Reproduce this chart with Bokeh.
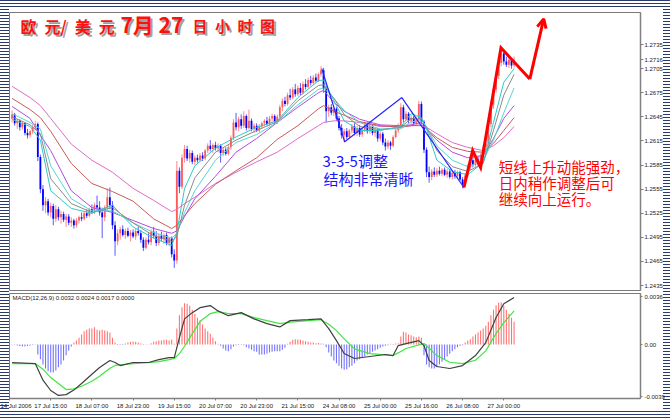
from bokeh.plotting import figure
from bokeh.models import Range1d, FixedTicker, NumeralTickFormatter, Label, Arrow, OpenHead, ColumnDataSource
from bokeh.layouts import column
from bokeh.embed import file_html
from bokeh.resources import INLINE

# ---------------- data (EUR/USD hourly) ----------------
opens = [1.2643, 1.2648, 1.2637, 1.2640, 1.2632, 1.2637, 1.2625, 1.2622, 1.2627, 1.2632,
         1.2636, 1.2595, 1.2555, 1.2535, 1.2540, 1.2526, 1.2534, 1.2518, 1.2530, 1.2520,
         1.2524, 1.2517, 1.2521, 1.2513, 1.2516, 1.2510, 1.2516, 1.2520, 1.2518, 1.2525,
         1.2522, 1.2530, 1.2527, 1.2535, 1.2532, 1.2526, 1.2520, 1.2532, 1.2545, 1.2535,
         1.2510, 1.2490, 1.2500, 1.2505, 1.2498, 1.2503, 1.2497, 1.2501, 1.2496, 1.2503,
         1.2500, 1.2492, 1.2482, 1.2492, 1.2489, 1.2502, 1.2497, 1.2488, 1.2497, 1.2493,
         1.2498, 1.2488, 1.2494, 1.2474, 1.2466, 1.2578, 1.2558, 1.2594, 1.2605, 1.2593,
         1.2600, 1.2589, 1.2594, 1.2591, 1.2597, 1.2593, 1.2603, 1.2609, 1.2605, 1.2610,
         1.2606, 1.2609, 1.2600, 1.2604, 1.2599, 1.2607, 1.2619, 1.2638, 1.2632, 1.2642,
         1.2634, 1.2646, 1.2631, 1.2640, 1.2630, 1.2634, 1.2628, 1.2633, 1.2637, 1.2640,
         1.2636, 1.2643, 1.2646, 1.2639, 1.2645, 1.2657, 1.2665, 1.2661, 1.2672, 1.2669,
         1.2679, 1.2673, 1.2681, 1.2675, 1.2686, 1.2682, 1.2691, 1.2687, 1.2694, 1.2690,
         1.2698, 1.2703, 1.2680, 1.2652, 1.2657, 1.2650, 1.2655, 1.2643, 1.2631, 1.2622,
         1.2627, 1.2620, 1.2628, 1.2633, 1.2625, 1.2631, 1.2623, 1.2629, 1.2635, 1.2627,
         1.2633, 1.2625, 1.2629, 1.2618, 1.2624, 1.2613, 1.2608, 1.2613, 1.2609, 1.2620,
         1.2628, 1.2634, 1.2657, 1.2642, 1.2649, 1.2640, 1.2644, 1.2637, 1.2642, 1.2661,
         1.2639, 1.2604, 1.2576, 1.2570, 1.2577, 1.2573, 1.2578, 1.2574, 1.2579, 1.2573,
         1.2577, 1.2570, 1.2575, 1.2571, 1.2576, 1.2567, 1.2561, 1.2572, 1.2583, 1.2591,
         1.2585, 1.2592, 1.2587, 1.2597, 1.2607, 1.2612, 1.2636, 1.2660, 1.2679, 1.2696,
         1.2712, 1.2724, 1.2714, 1.2710, 1.2716, 1.2709]
highs = [1.2653, 1.2650, 1.2643, 1.2642, 1.2640, 1.2638, 1.2630, 1.2629, 1.2635, 1.2640,
         1.2638, 1.2598, 1.2560, 1.2545, 1.2543, 1.2538, 1.2537, 1.2535, 1.2533, 1.2528,
         1.2527, 1.2524, 1.2524, 1.2520, 1.2518, 1.2519, 1.2522, 1.2526, 1.2528, 1.2530,
         1.2532, 1.2536, 1.2538, 1.2547, 1.2540, 1.2532, 1.2535, 1.2556, 1.2557, 1.2540,
         1.2515, 1.2505, 1.2508, 1.2510, 1.2506, 1.2507, 1.2504, 1.2505, 1.2506, 1.2508,
         1.2504, 1.2495, 1.2495, 1.2500, 1.2505, 1.2508, 1.2503, 1.2500, 1.2502, 1.2500,
         1.2501, 1.2496, 1.2496, 1.2480, 1.2590, 1.2582, 1.2598, 1.2610, 1.2609, 1.2604,
         1.2603, 1.2597, 1.2598, 1.2600, 1.2601, 1.2605, 1.2612, 1.2616, 1.2612, 1.2614,
         1.2612, 1.2611, 1.2607, 1.2607, 1.2610, 1.2622, 1.2642, 1.2650, 1.2645, 1.2648,
         1.2652, 1.2648, 1.2654, 1.2643, 1.2637, 1.2637, 1.2636, 1.2639, 1.2642, 1.2645,
         1.2646, 1.2649, 1.2648, 1.2648, 1.2660, 1.2668, 1.2670, 1.2675, 1.2680, 1.2682,
         1.2686, 1.2684, 1.2687, 1.2689, 1.2692, 1.2694, 1.2696, 1.2697, 1.2699, 1.2700,
         1.2708, 1.2706, 1.2684, 1.2660, 1.2661, 1.2658, 1.2657, 1.2646, 1.2636, 1.2630,
         1.2631, 1.2630, 1.2636, 1.2637, 1.2634, 1.2635, 1.2632, 1.2638, 1.2638, 1.2636,
         1.2636, 1.2632, 1.2631, 1.2627, 1.2626, 1.2618, 1.2616, 1.2615, 1.2622, 1.2631,
         1.2637, 1.2662, 1.2660, 1.2652, 1.2651, 1.2647, 1.2646, 1.2645, 1.2665, 1.2664,
         1.2641, 1.2607, 1.2583, 1.2580, 1.2582, 1.2581, 1.2583, 1.2581, 1.2582, 1.2580,
         1.2580, 1.2578, 1.2579, 1.2578, 1.2578, 1.2570, 1.2575, 1.2586, 1.2595, 1.2597,
         1.2595, 1.2596, 1.2600, 1.2610, 1.2626, 1.2640, 1.2665, 1.2684, 1.2700, 1.2716,
         1.2731, 1.2727, 1.2720, 1.2719, 1.2718, 1.2720]
lows = [1.2638, 1.2634, 1.2630, 1.2628, 1.2629, 1.2622, 1.2618, 1.2619, 1.2624, 1.2628,
        1.2590, 1.2550, 1.2528, 1.2525, 1.2522, 1.2520, 1.2510, 1.2514, 1.2516, 1.2512,
        1.2514, 1.2508, 1.2510, 1.2508, 1.2506, 1.2507, 1.2512, 1.2515, 1.2516, 1.2519,
        1.2520, 1.2524, 1.2524, 1.2528, 1.2522, 1.2494, 1.2515, 1.2528, 1.2530, 1.2505,
        1.2472, 1.2485, 1.2492, 1.2496, 1.2493, 1.2495, 1.2490, 1.2494, 1.2492, 1.2497,
        1.2488, 1.2478, 1.2480, 1.2486, 1.2485, 1.2494, 1.2484, 1.2485, 1.2490, 1.2487,
        1.2485, 1.2484, 1.2470, 1.2457, 1.2462, 1.2550, 1.2555, 1.2588, 1.2590, 1.2588,
        1.2586, 1.2585, 1.2588, 1.2589, 1.2590, 1.2591, 1.2600, 1.2602, 1.2600, 1.2603,
        1.2601, 1.2588, 1.2596, 1.2597, 1.2597, 1.2604, 1.2616, 1.2628, 1.2627, 1.2630,
        1.2631, 1.2628, 1.2629, 1.2627, 1.2625, 1.2626, 1.2626, 1.2630, 1.2633, 1.2634,
        1.2634, 1.2639, 1.2636, 1.2636, 1.2643, 1.2652, 1.2658, 1.2659, 1.2666, 1.2667,
        1.2670, 1.2671, 1.2672, 1.2673, 1.2679, 1.2680, 1.2684, 1.2685, 1.2688, 1.2688,
        1.2695, 1.2675, 1.2638, 1.2645, 1.2647, 1.2646, 1.2640, 1.2628, 1.2618, 1.2613,
        1.2617, 1.2618, 1.2624, 1.2622, 1.2621, 1.2620, 1.2620, 1.2626, 1.2624, 1.2624,
        1.2622, 1.2620, 1.2614, 1.2615, 1.2610, 1.2603, 1.2605, 1.2604, 1.2607, 1.2618,
        1.2625, 1.2632, 1.2638, 1.2640, 1.2637, 1.2636, 1.2634, 1.2635, 1.2640, 1.2636,
        1.2600, 1.2570, 1.2563, 1.2566, 1.2570, 1.2570, 1.2572, 1.2571, 1.2571, 1.2569,
        1.2568, 1.2567, 1.2568, 1.2568, 1.2565, 1.2556, 1.2559, 1.2569, 1.2579, 1.2582,
        1.2583, 1.2584, 1.2585, 1.2594, 1.2604, 1.2610, 1.2632, 1.2655, 1.2675, 1.2692,
        1.2708, 1.2710, 1.2707, 1.2706, 1.2705, 1.2706]
closes = [1.2648, 1.2637, 1.2640, 1.2632, 1.2637, 1.2625, 1.2622, 1.2627, 1.2632, 1.2636,
          1.2595, 1.2555, 1.2535, 1.2540, 1.2526, 1.2534, 1.2518, 1.2530, 1.2520, 1.2524,
          1.2517, 1.2521, 1.2513, 1.2516, 1.2510, 1.2516, 1.2520, 1.2518, 1.2525, 1.2522,
          1.2530, 1.2527, 1.2535, 1.2532, 1.2526, 1.2520, 1.2532, 1.2545, 1.2535, 1.2510,
          1.2490, 1.2500, 1.2505, 1.2498, 1.2503, 1.2497, 1.2501, 1.2496, 1.2503, 1.2500,
          1.2492, 1.2482, 1.2492, 1.2489, 1.2502, 1.2497, 1.2488, 1.2497, 1.2493, 1.2498,
          1.2488, 1.2494, 1.2474, 1.2466, 1.2578, 1.2558, 1.2594, 1.2605, 1.2593, 1.2600,
          1.2589, 1.2594, 1.2591, 1.2597, 1.2593, 1.2603, 1.2609, 1.2605, 1.2610, 1.2606,
          1.2609, 1.2600, 1.2604, 1.2599, 1.2607, 1.2619, 1.2638, 1.2632, 1.2642, 1.2634,
          1.2646, 1.2631, 1.2640, 1.2630, 1.2634, 1.2628, 1.2633, 1.2637, 1.2640, 1.2636,
          1.2643, 1.2646, 1.2639, 1.2645, 1.2657, 1.2665, 1.2661, 1.2672, 1.2669, 1.2679,
          1.2673, 1.2681, 1.2675, 1.2686, 1.2682, 1.2691, 1.2687, 1.2694, 1.2690, 1.2698,
          1.2703, 1.2680, 1.2652, 1.2657, 1.2650, 1.2655, 1.2643, 1.2631, 1.2622, 1.2627,
          1.2620, 1.2628, 1.2633, 1.2625, 1.2631, 1.2623, 1.2629, 1.2635, 1.2627, 1.2633,
          1.2625, 1.2629, 1.2618, 1.2624, 1.2613, 1.2608, 1.2613, 1.2609, 1.2620, 1.2628,
          1.2634, 1.2657, 1.2642, 1.2649, 1.2640, 1.2644, 1.2637, 1.2642, 1.2661, 1.2639,
          1.2604, 1.2576, 1.2570, 1.2577, 1.2573, 1.2578, 1.2574, 1.2579, 1.2573, 1.2577,
          1.2570, 1.2575, 1.2571, 1.2576, 1.2567, 1.2561, 1.2572, 1.2583, 1.2591, 1.2585,
          1.2592, 1.2587, 1.2597, 1.2607, 1.2612, 1.2636, 1.2660, 1.2679, 1.2696, 1.2712,
          1.2724, 1.2714, 1.2710, 1.2716, 1.2709, 1.2716]

# moving averages, sampled at bar indices
ma_idx = [1, 8, 12, 16, 24, 32, 40, 48, 56, 63, 65, 68, 72, 80, 88, 96, 104, 112, 120, 122,
          126, 130, 136, 144, 152, 156, 160, 162, 166, 172, 178, 184, 188, 192, 196]
ma_fast = [1.2642, 1.2633, 1.2616, 1.2553, 1.2531, 1.2525, 1.2535, 1.2508, 1.2494, 1.2485,
           1.2501, 1.2556, 1.2584, 1.2606, 1.2620, 1.2632, 1.2640, 1.2669, 1.2690, 1.2691,
           1.2665, 1.2640, 1.2628, 1.2628, 1.2633, 1.2649, 1.2644, 1.2630, 1.2591, 1.2577,
           1.2573, 1.2588, 1.2638, 1.2688, 1.2705]
ma_gray = [1.2645, 1.2635, 1.2624, 1.2568, 1.2537, 1.2526, 1.2532, 1.2513, 1.2497, 1.2490,
           1.2496, 1.2535, 1.2569, 1.2601, 1.2616, 1.2628, 1.2639, 1.2665, 1.2684, 1.2685,
           1.2668, 1.2648, 1.2633, 1.2629, 1.2632, 1.2643, 1.2642, 1.2632, 1.2603, 1.2583,
           1.2577, 1.2587, 1.2628, 1.2672, 1.2698]
ma_cyan = [1.2649, 1.2638, 1.2630, 1.2584, 1.2543, 1.2528, 1.2528, 1.2513, 1.2501, 1.2494,
           1.2500, 1.2526, 1.2553, 1.2591, 1.2613, 1.2623, 1.2638, 1.2660, 1.2679, 1.2681,
           1.2668, 1.2653, 1.2638, 1.2630, 1.2630, 1.2639, 1.2640, 1.2633, 1.2609, 1.2591,
           1.2583, 1.2591, 1.2616, 1.2650, 1.2681]
ma_purple = [1.2658, 1.2643, 1.2622, 1.2603, 1.2553, 1.2532, 1.2526, 1.2516, 1.2506, 1.2500,
             1.2503, 1.2521, 1.2543, 1.2571, 1.2601, 1.2618, 1.2638, 1.2657, 1.2675, 1.2678,
             1.2663, 1.2652, 1.2642, 1.2635, 1.2634, 1.2635, 1.2638, 1.2630, 1.2616, 1.2601,
             1.2594, 1.2597, 1.2618, 1.2643, 1.2659]
ma_brown = [1.2668, 1.2654, 1.2644, 1.2627, 1.2587, 1.2562, 1.2552, 1.2540, 1.2518, 1.2506,
            1.2510, 1.2522, 1.2537, 1.2561, 1.2578, 1.2594, 1.2617, 1.2634, 1.2655, 1.2659,
            1.2652, 1.2647, 1.2639, 1.2634, 1.2632, 1.2634, 1.2635, 1.2630, 1.2619, 1.2607,
            1.2602, 1.2601, 1.2612, 1.2628, 1.2644]
ma_pink = [1.2683, 1.2669, 1.2659, 1.2643, 1.2611, 1.2591, 1.2576, 1.2556, 1.2541, 1.2527,
           1.2530, 1.2537, 1.2545, 1.2562, 1.2576, 1.2589, 1.2601, 1.2618, 1.2634, 1.2638,
           1.2640, 1.2640, 1.2638, 1.2633, 1.2633, 1.2634, 1.2634, 1.2632, 1.2624, 1.2613,
           1.2607, 1.2603, 1.2609, 1.2619, 1.2633]

# MACD(12,26,9) sub-window
macd_hist = [-0.00002, -0.00002, -0.00008, -0.00012, -0.00015, -0.00015, -0.00012, -0.00008, -0.00003, -0.00002,
             -0.00075, -0.0011, -0.0015, -0.0018, -0.0020, -0.0021, -0.0021, -0.00195, -0.0017, -0.0015,
             -0.0012, -0.0008, -0.00045, -0.00015, 0.00015, 0.0003, 0.0005, 0.00075, 0.0010, 0.0011,
             0.0012, 0.0012, 0.0013, 0.0011, 0.00105, 0.0011, 0.00105, 0.0010, 0.0009, 0.0005,
             0.00015, -0.00003, -0.00004, -0.00003, 0.00008, 0.00015, 0.0002, 0.00022, 0.0002, 0.00015,
             0.00008, 0.00003, -0.00002, 0.00002, 0.0001, 0.0002, 0.00025, 0.0003, 0.0003, 0.00035,
             0.00035, 0.0003, 0.00035, 0.00005, 0.0012, 0.0022, 0.0028, 0.0031, 0.00305, 0.0029,
             0.0026, 0.0023, 0.0020, 0.0018, 0.0015, 0.0012, 0.0010, 0.0008, 0.0005, 0.00025,
             0.00005, -0.0001, -0.0003, -0.00045, -0.0005, -0.00035, -0.00015, -0.00005, -0.00003, 0.00003,
             -0.00005, -0.0002, -0.0003, -0.0004, -0.0005, -0.00055, -0.00075, -0.00075, -0.00075, -0.0007,
             -0.0006, -0.00055, -0.0005, -0.0005, -0.0005, -0.0004, -0.00025, 0.00005, 0.0002, 0.00035,
             0.0004, 0.00037, 0.00035, 0.0003, 0.00025, 0.0002, 0.00015, 0.00015, 0.0001, 0.00012,
             0.00008, 0.00005, -0.0002, -0.0006, -0.0009, -0.0012, -0.0014, -0.0016, -0.0018, -0.0019,
             -0.00185, -0.0017, -0.0016, -0.0014, -0.0012, -0.0011, -0.0010, -0.0009, -0.00075, -0.00065,
             -0.00055, -0.00045, -0.00035, -0.00025, -0.00015, -0.0001, -0.00005, 0.00005, -0.00003, 0.00008,
             0.0001, 0.0006, 0.00095, 0.0009, 0.00075, 0.0007, 0.0006, 0.00055, 0.0006, 0.0005,
             -0.0008, -0.0015, -0.0017, -0.0018, -0.0018, -0.0017, -0.0015, -0.0013, -0.0011, -0.0009,
             -0.0007, -0.0005, -0.00035, -0.0002, -0.0001, -0.00005, 0.00015, 0.0003, 0.0004, 0.0006,
             0.00075, 0.0009, 0.00105, 0.0012, 0.0014, 0.0017, 0.0022, 0.0026, 0.00295, 0.00315,
             0.00315, 0.0029, 0.0026, 0.0023, 0.0020, 0.0017]
macd_idx = [1, 10, 13, 16, 19, 22, 25, 28, 32, 35, 39, 41, 43, 48, 54, 58, 62, 64, 66, 68,
            71, 74, 78, 81, 85, 90, 95, 100, 105, 109, 116, 121, 124, 127, 130, 134, 140, 146, 149, 151,
            154, 159, 161, 163, 166, 171, 176, 181, 185, 189, 192, 196]
macd_main = [-0.00135, -0.00143, -0.00268, -0.00345, -0.00382, -0.00376, -0.00342, -0.00292, -0.00223, -0.00173,
             -0.00120, -0.00135, -0.00158, -0.00135, -0.00135, -0.00113, -0.00098, -0.00098, 0.00052, 0.00192,
             0.00239, 0.00276, 0.00292, 0.00252, 0.00216, 0.00239, 0.00192, 0.00157, 0.00132, 0.00179,
             0.00186, 0.00192, 0.00119, 0.00029, -0.00068, -0.00105, -0.00090, -0.00075, -0.00083, -0.00008,
             0.00007, 0.00029, -0.00008, -0.00120, -0.00165, -0.00180, -0.00158, -0.00083, 0.00014, 0.00202,
             0.00306, 0.00352]
macd_signal = [-0.00143, -0.00143, -0.00185, -0.00248, -0.00293, -0.00338, -0.00333, -0.00313, -0.00275, -0.00238,
               -0.00178, -0.00157, -0.00153, -0.00143, -0.00137, -0.00128, -0.00113, -0.00105, -0.00068, -0.00013,
               0.00082, 0.00172, 0.00232, 0.00247, 0.00232, 0.00232, 0.00202, 0.00179, 0.00157, 0.00168,
               0.00179, 0.00186, 0.00152, 0.00104, 0.00042, -0.00033, -0.00068, -0.00078, -0.00083, -0.00063,
               -0.00030, -0.00003, 0.00007, -0.00028, -0.00083, -0.00133, -0.00143, -0.00118, -0.00048, 0.00082,
               0.00164, 0.00252]

# hand-drawn annotations
zigzag_idx = [121.3, 130.2, 152.4, 176.5]
zigzag_price = [1.2705, 1.2614, 1.2669, 1.2557]
arrow_idx = [176.5, 179.9, 183.0, 190.9, 202.1, 207.5]
arrow_price = [1.2557, 1.2603, 1.2582, 1.2731, 1.2692, 1.2767]

# axes
price_ticks = [1.2435, 1.2465, 1.2495, 1.2525, 1.2555, 1.2585, 1.2615, 1.2645, 1.2675, 1.2705, 1.2735]
time_ticks = [0, 16, 32, 48, 64, 80, 96, 112, 128, 144, 160, 176, 192]
time_labels = ["14 Jul 2006", "17 Jul 15:00", "18 Jul 07:00", "18 Jul 23:00", "19 Jul 15:00",
               "20 Jul 07:00", "20 Jul 23:00", "21 Jul 15:00", "24 Jul 08:00", "25 Jul 00:00",
               "25 Jul 16:00", "26 Jul 08:00", "27 Jul 00:00"]
macd_ticks = [-0.0039, 0.0, 0.0036]
macd_tick_labels = ["-0.0039", "0.00", "0.0036"]
last_price = 1.2716

# ---------------- drawing ----------------
AX_FONT = "Liberation Sans"
CJK = "Noto Sans CJK SC"
bar_x = list(range(1, len(closes) + 1))
up = [c >= o for o, c in zip(opens, closes)]
src = ColumnDataSource(dict(
    x=bar_x, high=highs, low=lows,
    top=[max(o, c) for o, c in zip(opens, closes)],
    bot=[min(o, c) for o, c in zip(opens, closes)],
    body=["#ff5a5a" if u else "#0000ff" for u in up],
    wick=["#ff8a8a" if u else "#5a5aff" for u in up],
))

xr = Range1d(0, 245.1)
p = figure(frame_width=631, frame_height=278, x_range=xr, y_range=Range1d(1.24288, 1.27749),
           x_axis_location=None, y_axis_location="right", output_backend="svg",
           toolbar_location=None, min_border_left=9, min_border_top=12, min_border_bottom=2,
           min_border_right=30)
p.grid.visible = False
p.outline_line_color = "#7a7a7a"
p.background_fill_color = "white"
p.border_fill_color = None
ya = p.yaxis[0]
ya.ticker = FixedTicker(ticks=price_ticks + [last_price])
ya.formatter = NumeralTickFormatter(format="0.0000")
ya.major_label_text_font = AX_FONT
ya.major_label_text_font_size = "6px"
ya.major_label_text_color = "#202020"
ya.major_tick_out = 3
ya.major_tick_in = 0
ya.minor_tick_line_color = None
ya.axis_line_color = "#808080"
ya.axis_line_width = 1.5
ya.major_tick_line_color = "#808080"
ya.major_label_standoff = 1

p.segment(x0="x", y0="low", x1="x", y1="high", line_color="wick", line_width=1, source=src)
p.vbar(x="x", width=0.7, top="top", bottom="bot", fill_color="body", line_color=None, source=src)

for vals, col in [(ma_pink, "#de6cc8"), (ma_brown, "#c85a5a"), (ma_purple, "#b34be0"),
                  (ma_cyan, "#55d6d0"), (ma_gray, "#8a8a8a"), (ma_fast, "#2ec8c8")]:
    p.line(ma_idx, vals, line_color=col, line_width=1)

p.line(zigzag_idx, zigzag_price, line_color="#2626ff", line_width=1.2)
p.line(arrow_idx[:-1], arrow_price[:-1], line_color="#ff0000", line_width=3, line_join="miter")
p.add_layout(Arrow(x_start=arrow_idx[-2], y_start=arrow_price[-2], x_end=arrow_idx[-1], y_end=arrow_price[-1],
                   line_color="#ff0000", line_width=3,
                   end=OpenHead(size=9, line_color="#ff0000", line_width=3)))

def lab(fig, x, y, text, size, color, font=CJK, shadow=False, **kw):
    if shadow:
        fig.add_layout(Label(x=x, y=y, text=text, x_offset=2, y_offset=-2, text_font=font,
                             text_font_size=size, text_color="#a0a0a0", text_baseline="middle", **kw))
    fig.add_layout(Label(x=x, y=y, text=text, text_font=font, text_font_size=size,
                         text_color=color, text_baseline="middle", **kw))

lab(p, 4.27, 1.27587, "欧\u2002元/\u2002美\u2002元", "16px", "#ff1010", shadow=True, text_font_style="bold")
lab(p, 43.1, 1.27612, "7月 27", "21px", "#ff1010", shadow=True, text_font_style="bold")
lab(p, 71.1, 1.27587, "日\u2002小\u2002时\u2002图", "15px", "#ff1010", shadow=True, text_font_style="bold")
lab(p, 121.6, 1.25906, "3-3-5调整", "15px", "#1414ff")
lab(p, 122.0, 1.25688, "结构非常清晰", "15px", "#1414ff")
lab(p, 190.0, 1.25831, "短线上升动能强劲，", "14.5px", "#ff0000")
lab(p, 190.0, 1.25632, "日内稍作调整后可", "14.5px", "#ff0000")
lab(p, 190.0, 1.25433, "继续向上运行。", "14.5px", "#ff0000")

# MACD panel
q = figure(frame_width=631, frame_height=105, x_range=xr, y_range=Range1d(-0.00405, 0.003825),
           y_axis_location="right", output_backend="svg", toolbar_location=None,
           min_border_left=9, min_border_top=1, min_border_bottom=21, min_border_right=30)
q.grid.visible = False
q.outline_line_color = "#7a7a7a"
q.background_fill_color = "white"
q.border_fill_color = None
qy = q.yaxis[0]
qy.ticker = FixedTicker(ticks=macd_ticks)
qy.major_label_overrides = {t: s for t, s in zip(macd_ticks, macd_tick_labels)}
qx = q.xaxis[0]
qx.ticker = FixedTicker(ticks=time_ticks)
qx.major_label_overrides = {t: s for t, s in zip(time_ticks, time_labels)}
qx.major_label_text_align = "left"
for ax in (qy, qx):
    ax.major_label_text_font = AX_FONT
    ax.major_label_text_font_size = "6px"
    ax.major_label_text_color = "#202020"
    ax.major_tick_out = 2
    ax.major_tick_in = 0
    ax.minor_tick_line_color = None
    ax.axis_line_color = "#808080"
    ax.axis_line_width = 1.5
    ax.major_tick_line_color = "#808080"
    ax.major_label_standoff = 2

hist_col = ["#ff7272" if v >= 0 else "#7272ff" for v in macd_hist]
q.vbar(x=bar_x, width=0.42, top=macd_hist, bottom=0, fill_color=hist_col, line_color=None)
q.line(macd_idx, macd_signal, line_color="#3ee83e", line_width=1.2)
q.line(macd_idx, macd_main, line_color="#404040", line_width=1.2)
q.add_layout(Label(x=1.17, y=0.0035, text="MACD(12,26,9) 0.0032 0.0024 0.0017 0.0000",
                   text_font=AX_FONT, text_font_size="6px", text_color="#202020",
                   text_baseline="middle", text_align="left"))

stripe = "repeating-linear-gradient(180deg, #2a3a6c 0px, #2a3a6c 1px, #ffffff 1px, #ffffff 3px)"
layout = column(p, q, spacing=0, styles={
    "background-color": "white",
    "background-image": ", ".join([stripe] * 4),
    "background-size": "9px 100%, 7px 100%, 100% 8px, 100% 8px",
    "background-position": "left top, right top, left top, left bottom",
    "background-repeat": "no-repeat",
})
open("out.html", "w").write(file_html(layout, INLINE))
